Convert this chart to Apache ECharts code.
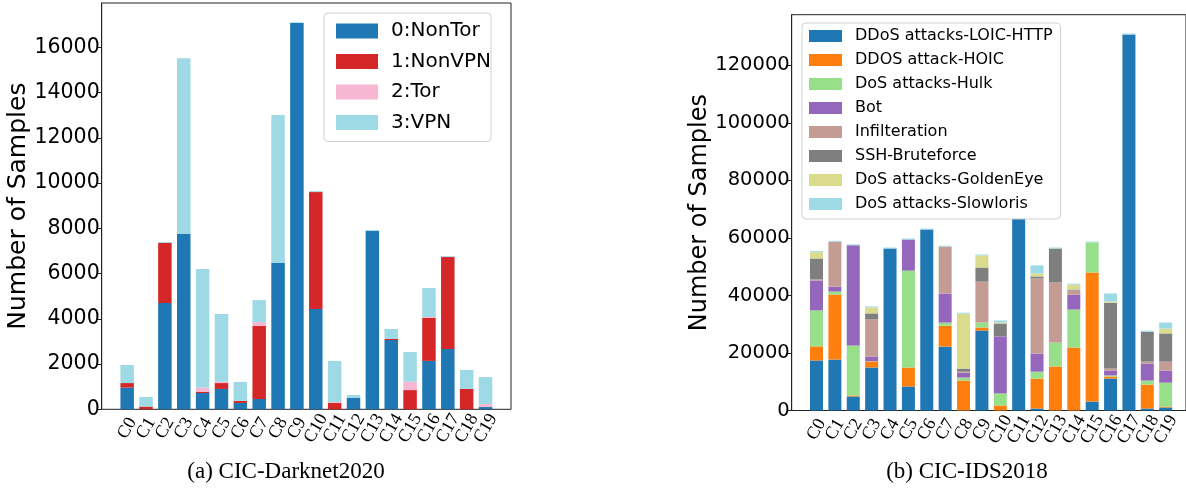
<!DOCTYPE html>
<html>
<head>
<meta charset="utf-8">
<script src="https://cdn.jsdelivr.net/npm/echarts@6/dist/echarts.min.js"></script>
<style>html,body{margin:0;padding:0;background:#fff}#c{width:1186px;height:490px}</style>
</head>
<body>
<div id="c"></div>
<script>
const categories = ['C0','C1','C2','C3','C4','C5','C6','C7','C8','C9','C10','C11','C12','C13','C14','C15','C16','C17','C18','C19'];
const yTicksA = [0,2000,4000,6000,8000,10000,12000,14000,16000];
const yTicksB = [0,20000,40000,60000,80000,100000,120000];

// (a) CIC-Darknet2020
const namesA = ['0:NonTor','1:NonVPN','2:Tor','3:VPN'];
const nonTor = [960,0,4700,7750,720,900,280,460,6470,17080,4430,0,500,7880,3060,0,2140,2670,0,100];
const nonVPN = [200,120,2650,0,60,260,90,3220,0,0,5170,280,0,0,50,850,1900,4060,900,0];
const tor    = [0,0,0,0,180,60,0,175,0,0,0,40,0,0,0,370,40,0,0,135];
const vpn    = [800,425,40,7770,5240,2990,840,970,6540,30,45,1820,130,40,440,1310,1280,40,840,1190];

// (b) CIC-IDS2018
const namesB = ['DDoS attacks-LOIC-HTTP','DDOS attack-HOIC','DoS attacks-Hulk','Bot','Infilteration','SSH-Bruteforce','DoS attacks-GoldenEye','DoS attacks-Slowloris'];
const loic   = [17400,17700,4870,14950,56300,8340,62900,22200,0,27800,0,66700,700,0,0,3100,11100,130700,700,1040];
const hoic   = [4900,22600,350,2100,0,6600,0,7300,10400,1050,1740,0,10400,15300,21900,44900,700,0,8300,350];
const hulk   = [12500,1050,17400,100,0,33700,0,1050,1050,1750,4200,0,2400,8300,13200,10400,400,0,1400,8300];
const bot    = [10400,1700,34800,1600,0,10800,0,10100,1700,0,19800,0,6300,0,5200,0,1700,0,5900,4200];
const infil  = [350,15600,0,12900,0,0,0,16300,350,14200,0,0,26100,20900,1400,0,700,0,700,3100];
const ssh    = [7300,0,0,2100,0,0,0,0,1050,4900,4500,0,700,11800,350,0,22900,0,10400,9800];
const golden = [2200,0,0,2100,0,0,0,0,19100,4200,350,0,1050,0,1700,0,400,0,0,1700];
const slow   = [350,350,350,350,350,350,350,350,350,350,700,350,2800,350,350,350,2800,350,350,2100];

const colorsA = ['#1f77b4','#d62728','#f7b6d2','#9edae5'];
const colorsB = ['#1f77b4','#ff7f0e','#98df8a','#9467bd','#c49c94','#7f7f7f','#dbdb8d','#9edae5'];
const valuesA = [nonTor, nonVPN, tor, vpn];
const valuesB = [loic, hoic, hulk, bot, infil, ssh, golden, slow];

const sans = 'DejaVu Sans';
const serif = 'Liberation Serif';

// layout: frame boxes and inner (category) boxes; margin of 0.85 band each side
const frameA = {left:101.7, top:3, width:409.3, height:406.3};
const frameB = {left:791.7, top:14.7, width:398.8, height:395.8};
function inner(f){ const w = f.width/21.7; return {left:f.left+0.85*w, top:f.top, width:20*w, height:f.height}; }

function mkSeries(names, vals, colors, k, stack, bw){
  return names.map((n,j)=>({
    type:'bar', name:n, stack:stack, xAxisIndex:k, yAxisIndex:k,
    barWidth:bw, data: vals[j],
    itemStyle:{color:colors[j]}, emphasis:{disabled:true}, silent:true
  }));
}
function mkCatX(k){
  return {type:'category', gridIndex:k, data:categories, boundaryGap:true,
    axisLine:{show:false}, axisTick:{show:false}, splitLine:{show:false},
    axisLabel:{interval:0, rotate:60, align:'center', verticalAlign:'middle',
      margin:19, fontFamily:serif, fontSize:18, color:'#000'}};
}
function mkFrameX(k){
  return {type:'value', gridIndex:k, min:0, max:1, show:false};
}
function mkHiddenY(k, max){
  return {type:'value', gridIndex:k, min:0, max:max, show:false};
}
function mkFrameY(k, max, ticks, fs, gap, nfs){
  return {type:'value', gridIndex:k, min:0, max:max,
    name:'Number of Samples', nameLocation:'middle', nameRotate:90, nameGap:gap,
    nameTextStyle:{fontFamily:sans, fontSize:nfs, color:'#000'},
    splitLine:{show:false},
    axisLine:{show:true, lineStyle:{color:'#222', width:1}},
    axisTick:{show:true, customValues:ticks, length:4, lineStyle:{color:'#222'}},
    axisLabel:{customValues:ticks, margin:2, fontFamily:sans, fontSize:fs, color:'#000', formatter:v=>String(v)}};
}

const chart = echarts.init(document.getElementById('c'), null, {renderer:'canvas'});
chart.setOption({
  animation:false,
  grid:[
    inner(frameA), inner(frameB),
    Object.assign({show:true, borderColor:'#222', borderWidth:1}, frameA),
    Object.assign({show:true, borderColor:'#222', borderWidth:1}, frameB)
  ],
  xAxis:[mkCatX(0), mkCatX(1), mkFrameX(2), mkFrameX(3)],
  yAxis:[mkHiddenY(0, 17960), mkHiddenY(1, 137600),
         mkFrameY(2, 17960, yTicksA, 20.5, 61, 25), mkFrameY(3, 137600, yTicksB, 19.5, 72, 24)],
  legend:[
    {data:namesA, orient:'vertical', left:324, top:13, itemWidth:42, itemHeight:15, itemGap:10.5,
     icon:'rect', selectedMode:false,
     textStyle:{fontFamily:sans, fontSize:20, lineHeight:20, color:'#000', padding:[0,0,0,8]},
     backgroundColor:'rgba(255,255,255,0.8)', borderColor:'#d0d0d0', borderWidth:1, borderRadius:4,
     padding:[8,0,9,12]},
    {data:namesB, orient:'vertical', left:802, top:23, itemWidth:33, itemHeight:12, itemGap:8,
     icon:'rect', selectedMode:false,
     textStyle:{fontFamily:sans, fontSize:16, lineHeight:16, color:'#000', padding:[0,0,0,8]},
     backgroundColor:'rgba(255,255,255,0.8)', borderColor:'#d0d0d0', borderWidth:1, borderRadius:4,
     padding:[5,8,7,7]}
  ],
  graphic:[
    {type:'text', x:286, y:472, style:{text:'(a) CIC-Darknet2020', font:'23px "Liberation Serif"', fill:'#000', align:'center', verticalAlign:'middle'}},
    {type:'text', x:967, y:472, style:{text:'(b) CIC-IDS2018', font:'23px "Liberation Serif"', fill:'#000', align:'center', verticalAlign:'middle'}}
  ],
  series:[...mkSeries(namesA, valuesA, colorsA, 0, 'a', 13.5), ...mkSeries(namesB, valuesB, colorsB, 1, 'b', 13)]
});
</script>
</body>
</html>
